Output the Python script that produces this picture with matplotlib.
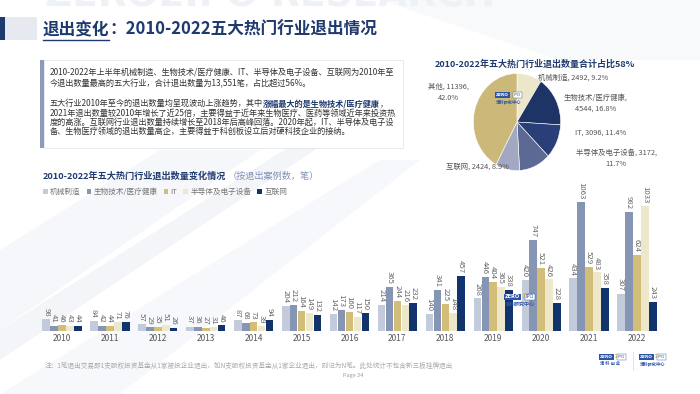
import matplotlib
matplotlib.use('Agg')
import matplotlib.pyplot as plt
from matplotlib.patches import Rectangle, FancyBboxPatch, Patch, Polygon
import numpy as np

plt.rcParams['font.family'] = ['Noto Sans CJK SC', 'DejaVu Sans']

# ---------------- data ----------------
years = ['2010', '2011', '2012', '2013', '2014', '2015', '2016',
         '2017', '2018', '2019', '2020', '2021', '2022']
series_names = ['机械制造', '生物技术/医疗健康', 'IT', '半导体及电子设备', '互联网']
machinery = [98, 84, 57, 37, 87, 204, 142, 214, 140, 268, 420, 434, 307]
biotech = [41, 42, 29, 36, 68, 212, 173, 365, 341, 446, 747, 1063, 982]
it_vals = [46, 44, 35, 27, 73, 164, 160, 244, 225, 404, 521, 529, 624]
semi = [43, 71, 51, 31, 39, 149, 117, 216, 148, 365, 426, 483, 1033]
internet = [44, 76, 26, 46, 94, 132, 150, 232, 457, 338, 228, 358, 243]
bar_colors = ['#C3CADA', '#8795B5', '#D2BE79', '#EDE8CA', '#12346E']

pie_names = ['机械制造', '生物技术/医疗健康', 'IT', '半导体及电子设备', '互联网', '其他']
pie_values = [2492, 4544, 3096, 3172, 2424, 11396]
pie_colors = ['#ECE6CB', '#1E3467', '#2A3F77', '#5D6995', '#A2A8C1', '#CCB879']

NAVY = '#1F3A6E'
W, H = 700, 394


def fx(px):
    return px / W


def fy(py):
    return 1 - py / H


fig = plt.figure(figsize=(7.0, 3.94), dpi=100)
fig.patch.set_facecolor('#FFFFFF')

# ---------------- background decoration ----------------
bg = fig.add_axes([0, 0, 1, 1], zorder=-10)
bg.set_xlim(0, W)
bg.set_ylim(H, 0)
bg.axis('off')
for poly, col in [
    ([(0, 250), (160, 150), (260, 150), (0, 330)], '#F5F7FA'),
    ([(0, 330), (300, 140), (330, 140), (0, 360)], '#F3F5F8'),
    ([(0, 394), (120, 394), (420, 160), (380, 160)], '#F7F8FB'),
    ([(380, 0), (700, 0), (700, 60), (560, 60)], '#F8F9FB'),
]:
    bg.add_patch(Polygon(poly, closed=True, facecolor=col, edgecolor='none'))
# watermark (mostly cut off at the top, as in the original)
bg.text(45, 14, 'ZERO2IPO RESEARCH', fontsize=27, fontweight='bold',
        color='#EEF1F5', va='bottom', ha='left', family='DejaVu Sans')
# title accent
bg.add_patch(Rectangle((0, 17), 5, 23, facecolor=NAVY, edgecolor='none'))
bg.add_patch(Rectangle((5, 17), 32, 23, facecolor='#E6EAF0', edgecolor='none'))

# ---------------- title ----------------
fig.canvas.draw()
rend = fig.canvas.get_renderer()
t_a = fig.text(fx(43), fy(30), '退出变化', fontsize=12, fontweight='bold',
               color=NAVY, va='center', ha='left')
bb = t_a.get_window_extent(renderer=rend)
fig.add_artist(plt.Line2D([bb.x0 / W, bb.x1 / W], [fy(39.5), fy(39.5)],
                          color=NAVY, lw=1.0, transform=fig.transFigure))
fig.text(bb.x1 / W, fy(30), '：2010-2022五大热门行业退出情况', fontsize=12,
         fontweight='bold', color=NAVY, va='center', ha='left')

# ---------------- text box ----------------
box = FancyBboxPatch((fx(44), fy(148)), fx(403) - fx(44), fy(60) - fy(148),
                     boxstyle='square,pad=0', transform=fig.transFigure,
                     facecolor='white', edgecolor='#E3E6EC', lw=0.6, zorder=1)
fig.add_artist(box)
fig.add_artist(Rectangle((fx(40), fy(148)), fx(44) - fx(40), fy(60) - fy(148),
                         transform=fig.transFigure, facecolor='#8D9ABA',
                         edgecolor='none', zorder=2))
body_kw = dict(fontsize=5.9, color='#333333', va='center', ha='left', zorder=3)
fig.text(fx(50), fy(72.5), '2010-2022年上半年机械制造、生物技术/医疗健康、IT、半导体及电子设备、互联网为2010年至', **body_kw)
fig.text(fx(50), fy(83.5), '今退出数量最高的五大行业，合计退出数量为13,551笔，占比超过56%。', **body_kw)
t1 = fig.text(fx(50), fy(103.5), '五大行业2010年至今的退出数量均呈现波动上涨趋势，其中', **body_kw)
b1 = t1.get_window_extent(renderer=rend)
t2 = fig.text(b1.x1 / W, fy(103.5), '涨幅最大的是生物技术/医疗健康',
              **{**body_kw, 'color': NAVY, 'fontweight': 'bold'})
b2 = t2.get_window_extent(renderer=rend)
fig.text(b2.x1 / W, fy(103.5), '，', **body_kw)
fig.text(fx(50), fy(113), '2021年退出数量较2010年增长了近25倍，主要得益于近年来生物医疗、医药等领域近年来投资热', **body_kw)
fig.text(fx(50), fy(122), '度的高涨。互联网行业退出数量持续增长至2018年后高峰回落。2020年起，IT、半导体及电子设', **body_kw)
fig.text(fx(50), fy(131), '备、生物医疗领域的退出数量高企，主要得益于科创板设立后对硬科技企业的接纳。', **body_kw)

# ---------------- bar chart ----------------
bt = fig.text(fx(43), fy(176), '2010-2022年五大热门行业退出数量变化情况', fontsize=6.6,
              fontweight='bold', fontstyle='italic', color=NAVY, va='center', ha='left')
bbt = bt.get_window_extent(renderer=rend)
fig.text(bbt.x1 / W + 0.002, fy(176), '（按退出案例数，笔）', fontsize=6.6, fontstyle='italic',
         color='#8090B8', va='center', ha='left')

handles = [Patch(facecolor=c, edgecolor='none', label=n) for c, n in zip(bar_colors, series_names)]
fig.legend(handles=handles, loc='center left', bbox_to_anchor=(fx(40), fy(192)),
           ncol=5, frameon=False, fontsize=5.5, handlelength=0.6, handleheight=0.6,
           handletextpad=0.3, columnspacing=0.8, labelcolor='#777777', borderaxespad=0)

ax = fig.add_axes([fx(33.25), fy(331), 632.5 / W, 157.8 / H])
ax.set_facecolor('none')
x = np.arange(len(years))
bw = 0.165
all_series = [machinery, biotech, it_vals, semi, internet]
for i, (vals, col) in enumerate(zip(all_series, bar_colors)):
    bars = ax.bar(x + (i - 2) * bw, vals, width=bw * 0.96, color=col, edgecolor='none')
    ax.bar_label(bars, rotation=-90, padding=2, fontsize=5.6, color='#666666')
ax.set_xlim(-0.6, 12.6)
ax.set_ylim(0, 1300)
ax.set_xticks(x)
ax.set_xticklabels(years, fontsize=6, color='#555555')
ax.tick_params(axis='x', length=0, pad=2.5)
ax.set_yticks([])
for s in ax.spines.values():
    s.set_visible(False)


def logo(x, y, s=1.0, sub='清科研究中心'):
    fig.text(fx(x), fy(y), 'ZERO', fontsize=3.6 * s, fontweight='bold', color='white',
             ha='left', va='center', family='DejaVu Sans',
             bbox=dict(boxstyle='square,pad=0.15', facecolor='#2D55A5', edgecolor='none'))
    fig.text(fx(x + 17 * s), fy(y), '2', fontsize=4.2 * s, fontweight='bold', color='#E2B33C',
             ha='left', va='center', family='DejaVu Sans')
    fig.text(fx(x + 21 * s), fy(y), 'IPO', fontsize=3.6 * s, color='#2D55A5',
             ha='left', va='center', family='DejaVu Sans',
             bbox=dict(boxstyle='square,pad=0.15', facecolor='white', edgecolor='#2D55A5', lw=0.3))
    fig.text(fx(x), fy(y + 8 * s), sub, fontsize=3.6 * s, fontweight='bold', color='#2D55A5',
             ha='left', va='center')


logo(505, 297, 1.0)

# ---------------- pie chart ----------------
fig.text(fx(535), fy(64), '2010-2022年五大热门行业退出数量合计占比58%', fontsize=6.5,
         fontweight='bold', fontstyle='italic', color=NAVY, va='center', ha='center')
pax = fig.add_axes([fx(517 - 44.5), fy(122 + 49.5), 89 / W, 99 / H])
pax.pie(pie_values, colors=pie_colors, startangle=90, counterclock=False,
        wedgeprops=dict(edgecolor='white', linewidth=0.4))
pax.set_aspect('auto')
pax.set_xlim(-1.02, 1.02)
pax.set_ylim(-1.02, 1.02)
pax.axis('off')
logo(496, 95, 0.85)

total = sum(pie_values)
label_pos = [(538, 78, 'left', 0), (596, 103, 'center', 1), (575, 133, 'left', 0),
             (616, 158, 'center', 2), (446, 167, 'left', 0), (448, 92, 'center', 2)]
for name, v, (px, py, ha, brk) in zip(pie_names, pie_values, label_pos):
    pct = f'{v / total * 100:.1f}%'
    if brk == 0:
        s = f'{name}, {v}, {pct}'
    elif brk == 1:
        s = f'{name},\n{v}, {pct}'
    else:
        s = f'{name}, {v},\n{pct}'
    fig.text(fx(px), fy(py), s, fontsize=5.3, color='#555555', ha=ha, va='center',
             multialignment='center', linespacing=1.6)

# ---------------- footnote ----------------
fig.text(fx(45), fy(366), '注：1笔退出交易即1支股权投资基金从1家被投企业退出，如N支股权投资基金从1家企业退出，则记为N笔。此处统计不包含新三板挂牌退出',
         fontsize=4.8, color='#AAAAAA', ha='left', va='center')
fig.text(fx(353), fy(376), 'Page 34', fontsize=4, color='#999999', ha='center', va='center')
logo(600, 357, 0.85, sub='清 科 创 业')
logo(640, 357, 0.85)
fig.add_artist(plt.Line2D([fx(633), fx(633)], [fy(352), fy(370)], color='#CCCCCC', lw=0.4,
                          transform=fig.transFigure))

fig.savefig('out.png', dpi=100, facecolor=fig.get_facecolor())
